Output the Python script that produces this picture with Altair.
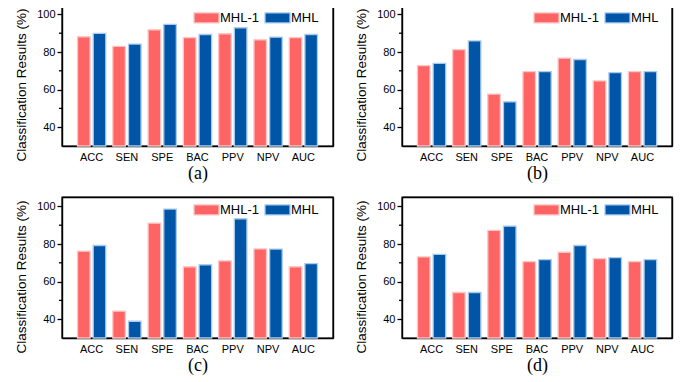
import altair as alt
import pandas as pd

categories = ["ACC", "SEN", "SPE", "BAC", "PPV", "NPV", "AUC"]
series = ["MHL-1", "MHL"]
captions = ["(a)", "(b)", "(c)", "(d)"]

a_mhl1 = [88.1, 83.0, 91.8, 87.6, 89.7, 86.5, 87.6]
a_mhl = [89.9, 84.2, 94.7, 89.3, 92.9, 87.9, 89.3]
b_mhl1 = [72.8, 81.3, 57.6, 69.6, 76.7, 64.6, 69.6]
b_mhl = [74.0, 85.9, 53.5, 69.6, 76.0, 69.0, 69.6]
c_mhl1 = [76.2, 44.3, 91.1, 67.9, 71.0, 77.4, 67.9]
c_mhl = [79.2, 38.9, 98.6, 68.9, 93.4, 77.3, 69.6]
d_mhl1 = [73.1, 54.2, 87.2, 70.6, 75.6, 72.2, 70.6]
d_mhl = [74.5, 54.2, 89.5, 71.7, 79.2, 72.8, 71.7]

major_ticks = [40, 60, 80, 100]
minor_ticks = [50, 70, 90]

fill_colors = ["#FF6464", "#0055A6"]
halo_colors = ["#FFC4C4", "#A8CAEC"]

SANS = "Liberation Sans"
SERIF = "Liberation Serif"
PLOT_H = 141


def panel(v1, v2, cap, w):
    df = pd.DataFrame({
        "cat": categories * 2,
        "series": [series[0]] * len(categories) + [series[1]] * len(categories),
        "value": v1 + v2,
    })
    yscale = alt.Scale(domain=[30, 105], nice=False, zero=False)
    xoff = alt.XOffset("series:N", sort=series, scale=alt.Scale(paddingInner=0.2))
    bars = alt.Chart(df).mark_bar(strokeWidth=1.3, strokeOpacity=1).encode(
        x=alt.X("cat:N", sort=categories,
                scale=alt.Scale(paddingInner=0.2, paddingOuter=0.44),
                axis=alt.Axis(orient="bottom", title=cap, labelAngle=0, ticks=False,
                              labelPadding=5,
                              labelFont=SANS, labelFontSize=11, labelColor="black",
                              titleFont=SERIF, titleFontSize=18, titleFontWeight="normal",
                              titleColor="black", titlePadding=2,
                              domainColor="black", domainWidth=1.4)),
        xOffset=xoff,
        y=alt.Y("value:Q", scale=yscale,
                axis=alt.Axis(orient="left", title="Classification Results (%)",
                              values=major_ticks,
                              grid=False, tickSize=5, tickWidth=1.3, tickColor="black",
                              domainColor="black", domainWidth=1.4,
                              labelFont=SANS, labelFontSize=11, labelColor="black",
                              labelPadding=2,
                              titleFont=SANS, titleFontSize=13.5, titleFontWeight="normal",
                              titleColor="black", titleX=-34, titleY=79.5)),
        y2=alt.datum(30),
        color=alt.Color("series:N", sort=series,
                        scale=alt.Scale(domain=series, range=fill_colors),
                        legend=alt.Legend(title=None, orient="none", direction="horizontal",
                                          columns=2, legendX=138, legendY=6,
                                          symbolType="M-2.5,-1H2.5V1H-2.5Z", symbolSize=100,
                                          symbolStrokeWidth=1.3, symbolOpacity=1,
                                          labelFont=SANS, labelFontSize=13, labelColor="black",
                                          labelOffset=7, columnPadding=2, padding=0)),
        stroke=alt.Stroke("series:N", sort=series,
                          scale=alt.Scale(domain=series, range=halo_colors)),
    )
    # invisible copy of the bars that only carries the top and right frame axes
    frame = alt.Chart(df).mark_bar(opacity=0).encode(
        x=alt.X("cat:N", sort=categories,
                axis=alt.Axis(orient="top", labels=False, ticks=False, title=None,
                              grid=False, domainColor="black", domainWidth=1.4)),
        xOffset=xoff,
        y=alt.Y("value:Q",
                axis=alt.Axis(orient="right", labels=False, ticks=False, title=None,
                              grid=False, domainColor="black", domainWidth=1.4)),
        y2=alt.datum(30),
    )
    minor = alt.Chart(pd.DataFrame({"value": minor_ticks})).mark_rule(
        color="black", strokeWidth=1.3
    ).encode(
        y=alt.Y("value:Q", axis=None),
        x=alt.value(-3),
        x2=alt.value(0),
    )
    return alt.layer(bars, frame, minor).resolve_axis(
        x="independent", y="independent"
    ).properties(width=w, height=PLOT_H)


pa = panel(a_mhl1, a_mhl, captions[0], 271)
pb = panel(b_mhl1, b_mhl, captions[1], 270)
pc = panel(c_mhl1, c_mhl, captions[2], 271)
pd_ = panel(d_mhl1, d_mhl, captions[3], 270)

chart = alt.concat(pa, pb, pc, pd_, columns=2, spacing={"row": 13, "column": 19}).resolve_scale(
    color="independent", stroke="independent"
).resolve_legend(
    color="independent", stroke="independent"
).properties(
    padding={"left": 5, "top": -4, "right": 5, "bottom": 0},
    background="white",
).configure_view(
    stroke="black", strokeWidth=1.4
)

chart.save("out.html", embed_options={"renderer": "svg", "actions": False})
